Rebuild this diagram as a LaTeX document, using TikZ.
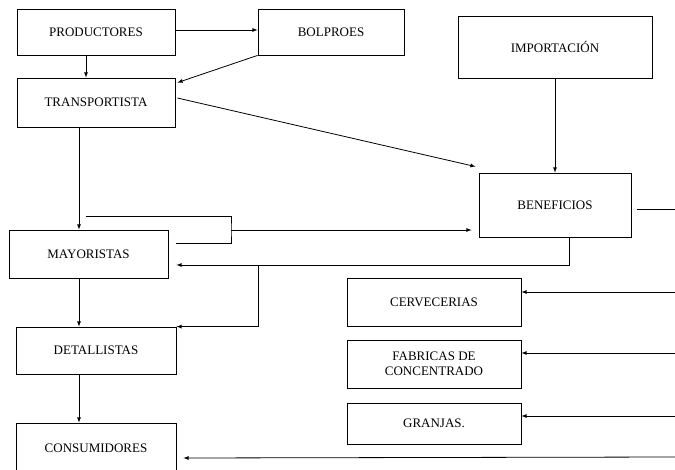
\documentclass[tikz,border=0pt]{standalone}
\usepackage{fontspec}
\setmainfont{Liberation Serif}

\tikzset{
  caja/.style={draw, inner sep=0pt, align=center,
    font=\fontsize{13}{15}\selectfont},
}

\begin{document}
\begin{tikzpicture}[x=1pt,y=-1pt,line width=0.8pt,>=latex]
  \clip (0,0) rectangle (675,469);
  \node[caja,minimum width=158pt,minimum height=46pt] (productores) at (96,32) {PRODUCTORES};
  \node[caja,minimum width=146pt,minimum height=46pt] (bolproes) at (331,32) {BOLPROES};
  \node[caja,minimum width=158pt,minimum height=49pt] (transportista) at (96,102.5) {TRANSPORTISTA};
  \node[caja,minimum width=194pt,minimum height=62pt] (importacion) at (555,47) {IMPORTACIÓN};
  \node[caja,minimum width=152pt,minimum height=64pt] (beneficios) at (555,205) {BENEFICIOS};
  \node[caja,minimum width=159pt,minimum height=48pt] (mayoristas) at (88.5,254) {MAYORISTAS};
  \node[caja,minimum width=174pt,minimum height=48pt] (cervecerias) at (434,302) {CERVECERIAS};
  \node[caja,minimum width=174pt,minimum height=48pt] (fabricas) at (434,364) {FABRICAS DE\\CONCENTRADO};
  \node[caja,minimum width=174pt,minimum height=41pt] (granjas) at (434,423.5) {GRANJAS.};
  \node[caja,minimum width=160pt,minimum height=47pt] (detallistas) at (96,350.5) {DETALLISTAS};
  \node[caja,minimum width=160pt,minimum height=50pt] (consumidores) at (96,448) {CONSUMIDORES};

  \coordinate (llaveA) at (86,216);
  \coordinate (llaveB) at (176,243);
  \coordinate (llaveC) at (231,230);
  \coordinate (reparto) at (258,265);
  \coordinate (bordeA) at (675,209);
  \coordinate (bordeB) at (675,292);
  \coordinate (bordeC) at (675,353);
  \coordinate (bordeD) at (675,416);
  \coordinate (bordeE) at (675,457);

  \draw[->]
    ([yshift=2pt]productores.east)
    --
    ([yshift=2pt]bolproes.west);
  \draw[->]
    ([xshift=-10pt]productores.south)
    --
    ([xshift=-10pt]transportista.north);
  \draw[->]
    (bolproes.south west)
    --
    ([xshift=2pt,yshift=-5pt]transportista.north east);
  \draw[->]
    ([xshift=2pt,yshift=4.5pt]transportista.east)
    --
    ([xshift=-3pt,yshift=6pt]beneficios.north west);
  \draw[->]
    (importacion.south)
    --
    (beneficios.north);
  \draw[->]
    ([xshift=-17pt]transportista.south)
    --
    ([xshift=-9.5pt]mayoristas.north);
  \draw
    (llaveA) -| (llaveC) |- (llaveB);
  \draw[->,shorten >=7pt]
    (llaveC)
    --
    (llaveC -| beneficios.west);
  \draw[->]
    ([xshift=14pt]beneficios.south)
    |-
    ([xshift=8pt,yshift=-11pt]mayoristas.east);
  \draw[->]
    (reparto)
    |-
    (detallistas.north east);
  \draw[->]
    ([xshift=-9.5pt]mayoristas.south)
    --
    ([xshift=-17pt]detallistas.north);
  \draw[->]
    ([xshift=-17pt]detallistas.south)
    --
    ([xshift=-17pt]consumidores.north);
  \draw
    ([xshift=6pt,yshift=-4pt]beneficios.east)
    --
    (bordeA);
  \draw[->]
    (bordeB)
    --
    ([yshift=10pt]cervecerias.east);
  \draw[->]
    (bordeC)
    --
    ([yshift=11pt]fabricas.east);
  \draw[->]
    (bordeD)
    --
    ([yshift=7.5pt]granjas.east);
  \draw[->]
    (bordeE)
    --
    ([xshift=7pt,yshift=-10pt]consumidores.east);
\end{tikzpicture}
\end{document}
